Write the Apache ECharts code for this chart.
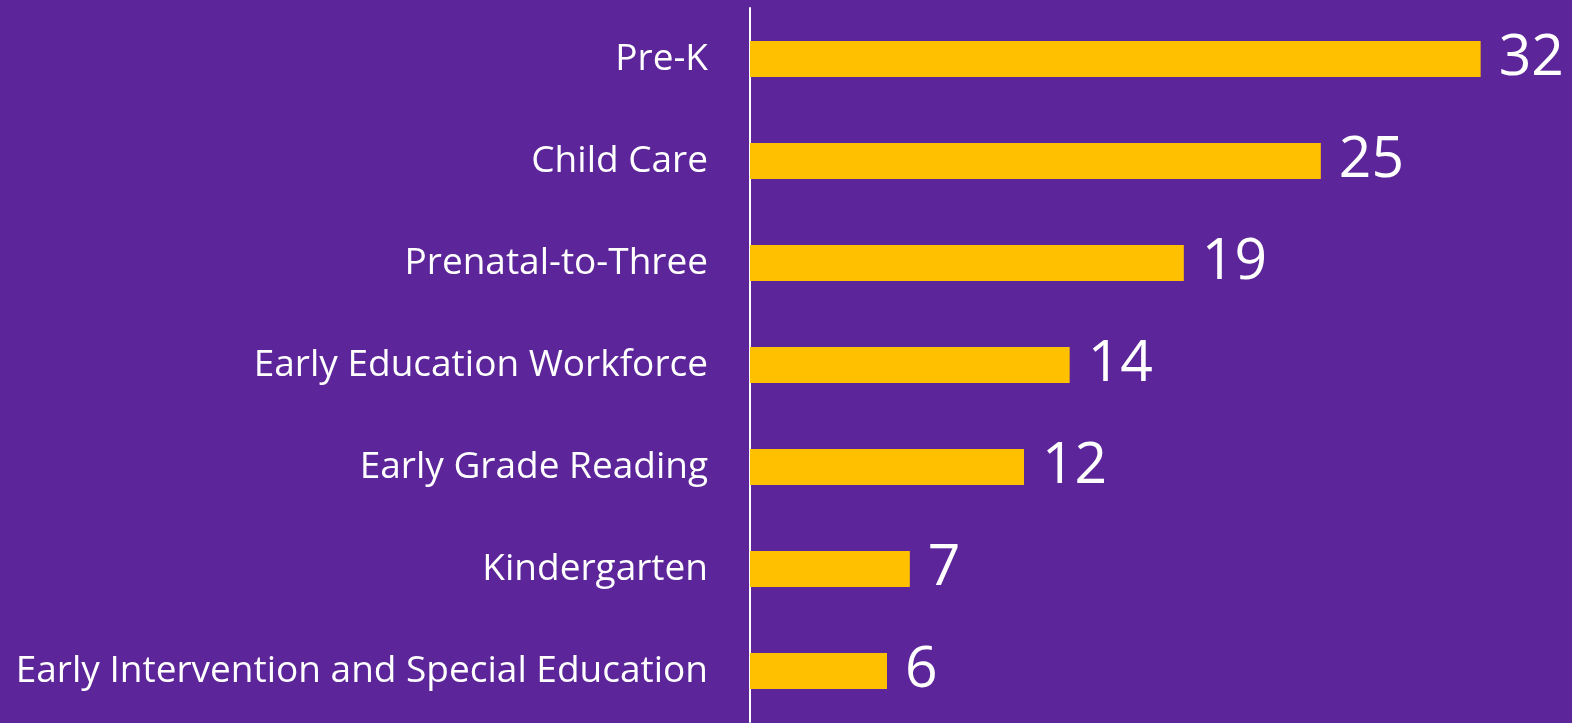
<!DOCTYPE html>
<html>
<head>
<meta charset="utf-8">
<script src="https://cdn.jsdelivr.net/npm/echarts@6/dist/echarts.min.js"></script>
<style>
  html, body { margin: 0; padding: 0; background: #5c2599; }
  #chart { width: 1572px; height: 723px; }
</style>
</head>
<body>
<div id="chart"></div>
<script>
// categories top to bottom
const categories = [
  "Pre-K",
  "Child Care",
  "Prenatal-to-Three",
  "Early Education Workforce",
  "Early Grade Reading",
  "Kindergarten",
  "Early Intervention and Special Education"
];
const counts = [32, 25, 19, 14, 12, 7, 6];

const chart = echarts.init(document.getElementById("chart"), null, { renderer: "canvas" });

const option = {
  backgroundColor: "#5c2599",
  animation: false,
  grid: {
    left: 750,
    top: 8,
    width: 822.4,
    height: 714,
    containLabel: false,
  },
  xAxis: {
    type: "value",
    min: 0,
    max: 36,
    show: false,
  },
  yAxis: {
    type: "category",
    inverse: true,
    data: categories,
    axisLine: {
      show: true,
      lineStyle: { color: "#ffffff", width: 2 },
    },
    axisTick: { show: false },
    axisLabel: {
      color: "#ffffff",
      fontSize: 37,
      fontFamily: "Open Sans",
      margin: 42,
      padding: [4, 0, 0, 0],
    },
    splitLine: { show: false },
  },
  series: [
    {
      type: "bar",
      data: counts,
      barWidth: 36,
      itemStyle: { color: "#ffc000" },
      label: {
        show: true,
        position: "right",
        distance: 18,
        color: "#ffffff",
        fontSize: 57,
        fontFamily: "Open Sans",
      },
    },
  ],
};
chart.setOption(option);
</script>
</body>
</html>
